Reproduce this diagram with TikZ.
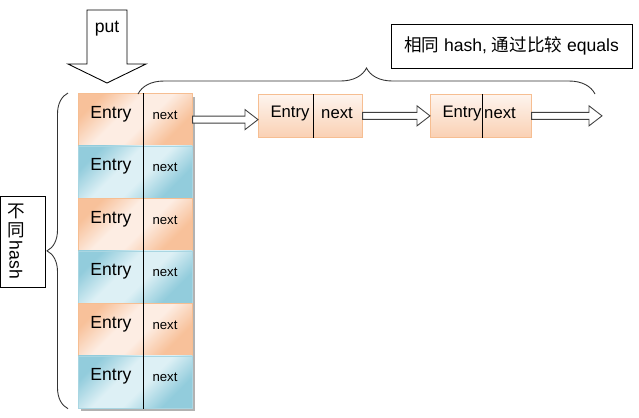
\documentclass[tikz,border=0pt]{standalone}
\usepackage{fontspec}
\setmainfont{Liberation Sans}
\newfontfamily\cjk{Noto Sans CJK SC}
\usetikzlibrary{positioning,calc,decorations.pathreplacing}

\definecolor{orDark}{HTML}{F8C19A}
\definecolor{orLight}{HTML}{FDEDE3}
\definecolor{orLine}{HTML}{F6BE92}
\definecolor{blDark}{HTML}{92CCDC}
\definecolor{blLight}{HTML}{DDF0F5}
\definecolor{blLine}{HTML}{A9D6E2}

\pgfdeclarehorizontalshading{orshade}{100bp}{color(0bp)=(orDark); color(28bp)=(orDark);
    color(45bp)=(orLight); color(58bp)=(orLight); color(75bp)=(orDark); color(100bp)=(orDark)}
\pgfdeclarehorizontalshading{blshade}{100bp}{color(0bp)=(blDark); color(28bp)=(blDark);
    color(45bp)=(blLight); color(58bp)=(blLight); color(75bp)=(blDark); color(100bp)=(blDark)}

% hollow arrow between two points (at the height of the first)
\newcommand\hollowarrow[2]{%
  \draw[fat arrow] let \p1=(#1), \p2=(#2) in
    (\x1,\y1+2pt) -- (\x2-7.4pt,\y1+2pt) -- (\x2-7.4pt,\y1+5.7pt) -- (\x2,\y1)
    -- (\x2-7.4pt,\y1-5.7pt) -- (\x2-7.4pt,\y1-2pt) -- (\x1,\y1-2pt) -- cycle;}

\begin{document}
\begin{tikzpicture}[x=0.02cm, y=-0.02cm,
        outline/.style={draw, line width=0.5pt},
        fat arrow/.style={draw=black!75, fill=white, line width=0.5pt},
        or cell/.style={draw=orLine, shading=orshade, shading angle=135,
            minimum width=2.28cm, minimum height=1.05cm, inner sep=0, anchor=north west},
        bl cell/.style={draw=blLine, shading=blshade, shading angle=135,
            minimum width=2.28cm, minimum height=1.05cm, inner sep=0, anchor=north west},
        link/.style={draw=orLine, top color=orLight!60!white, bottom color=orDark!75!white,
            minimum height=0.86cm, inner sep=0, anchor=north west},
        entrytxt/.style={font=\fontsize{10}{12}\selectfont, inner sep=0},
        nexttxt/.style={font=\fontsize{7.5}{9}\selectfont, inner sep=0},
        linktxt/.style={font=\fontsize{9.5}{11}\selectfont, inner sep=0},
        brace line/.style={decorate, line width=0.5pt, draw=black!80}
    ]
    \useasboundingbox (0,0) rectangle (639,417);

    % put arrow
    \draw[outline] (87,10) -- (127,10) -- (127,64) -- (146,64) -- (107,83) -- (68,64) -- (87,64) -- cycle;
    \node[font=\fontsize{10}{12}\selectfont] (put) at (107,29) {put};

    % table column
    \fill[black!30] (81,97) rectangle (195,411);
    \foreach \i/\kind in {1/or,2/bl,3/or,4/bl,5/or,6/bl}{
        \node[\kind\space cell] (cell\i) at (78,{93+52.5*(\i-1)}) {};
        \node[entrytxt] (entry\i) at ($(cell\i.north west)+(33,21)$) {Entry};
        \node[nexttxt] (next\i) at ($(cell\i.north west)+(87,22)$) {next};
    }
    \draw[line width=0.5pt] ($(cell1.north west)+(65,0)$) -- ($(cell6.south west)+(65,0)$);

    % chained entries
    \node[link, minimum width=2.08cm] (link1) at (258,94) {};
    \node[linktxt] (entry7) at ($(link1.north west)+(32,19)$) {Entry};
    \node[linktxt] (next7) at ($(link1.north west)+(79,19)$) {next};
    \draw[line width=0.5pt] ($(link1.north west)+(55,0)$) -- ($(link1.south west)+(55,0)$);

    \node[link, minimum width=2.02cm] (link2) at (430,94) {};
    \node[linktxt] (entry8) at ($(link2.north west)+(32,19)$) {Entry};
    \node[linktxt] (next8) at ($(link2.north west)+(70,19)$) {next};
    \draw[line width=0.5pt] ($(link2.north west)+(52,0)$) -- ($(link2.south west)+(52,0)$);

    \coordinate (tail) at (602,118);

    % Arrows
    \hollowarrow{cell1.east}{link1.west}
    \hollowarrow{link1.east}{link2.west}
    \hollowarrow{link2.east}{tail}

    % braces
    \draw[brace line, decoration={brace, amplitude=0.52cm}] (138,94) -- (595,94);
    \draw[brace line, decoration={brace, amplitude=0.42cm}]
        ($(cell6.south west)+(-10,0)$) -- ($(cell1.north west)+(-10,0)$);

    % labels
    \node[outline, minimum width=4.82cm, minimum height=0.88cm, font=\fontsize{10}{12}\selectfont]
        (same) at (511.5,46) {{\cjk 相同} hash, {\cjk 通过比较} equals};
    \node[outline, minimum width=0.89cm, minimum height=1.82cm] (diff) at (23,241.5) {};
    \node[font=\fontsize{10}{12}\selectfont, align=center, inner sep=0] (butong) at (16,221) {\cjk 不\\[-1pt]\cjk 同};
    \node[font=\fontsize{10}{12}\selectfont, rotate=-90, inner sep=0] (hash) at (16,260) {hash};

\end{tikzpicture}
\end{document}
